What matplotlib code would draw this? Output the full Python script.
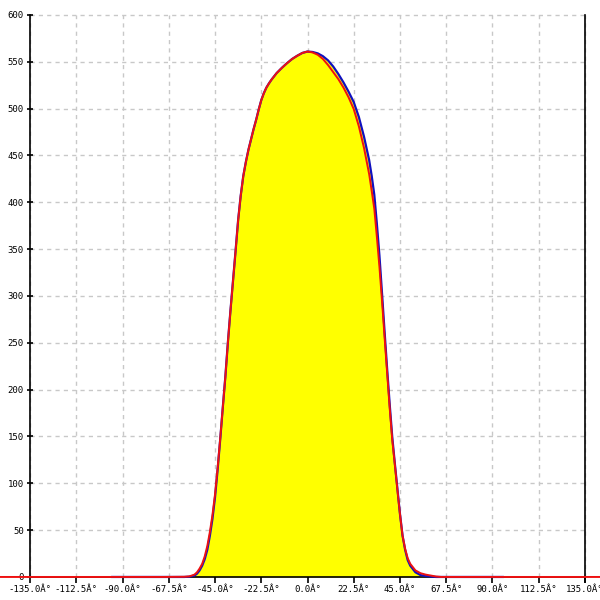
import matplotlib
matplotlib.use("Agg")
import matplotlib.pyplot as plt

# ---- data ----
angles_blue = [-95, -90, -80, -70, -60, -57.5, -55, -53.75, -52.5, -51.25, -50, -48.75, -47.5,
               -46.25, -45, -43.75, -42.5, -41.25, -40, -38.75, -37.5, -36.25, -35, -33.75,
               -32.5, -31.25, -30, -28.75, -27.5, -26.25, -25, -23.75, -22.5, -21.25, -20,
               -18.75, -17.5, -16.25, -15, -12.5, -10, -7.5, -5, -2.5, 0, 2.5, 5, 7.5, 10,
               12.5, 15, 17.5, 20, 22.5, 25, 27.5, 30, 31.25, 32.5, 33.75, 35, 36.25, 37.5,
               38.75, 40, 41.25, 42.5, 43.75, 45, 46.25, 47.5, 48.75, 50, 52.5, 55, 57.5, 60,
               62.5, 70, 80, 90, 95]
values_blue = [0, 0, 0, 0, 0, 0.3, 1.5, 3.5, 7, 12, 19, 29, 44,
               62, 85, 114, 146, 180, 213, 250, 284, 316, 348, 381,
               407, 428, 443, 456, 467, 478, 488, 499, 509, 516.5, 522.5,
               527, 531, 534.5, 538, 543.5, 548.5, 553, 556.5, 559.5, 561, 560.5, 559, 556, 551.5,
               545, 537, 528, 518, 507, 491, 470, 445, 428, 408, 377, 343, 303, 262,
               222, 184, 149, 121, 94, 67, 44, 29, 18, 12, 5, 2, 1, 0.5,
               0, 0, 0, 0, 0]

angles_red = [-180, -150, -95, -90, -80, -70, -60, -57.5, -55, -53.75, -52.5, -51.25, -50,
              -48.75, -47.5, -46.25, -45, -43.75, -42.5, -41.25, -40, -38.75, -37.5, -36.25,
              -35, -33.75, -32.5, -31.25, -30, -28.75, -27.5, -26.25, -25, -23.75, -22.5,
              -21.25, -20, -18.75, -17.5, -16.25, -15, -12.5, -10, -7.5, -5, -2.5, 0, 2.5, 5,
              7.5, 10, 12.5, 15, 17.5, 20, 22.5, 25, 27.5, 30, 31.25, 32.5, 33.75, 35, 36.25,
              37.5, 38.75, 40, 41.25, 42.5, 43.75, 45, 46.25, 47.5, 48.75, 50, 52.5, 55, 57.5,
              60, 62.5, 65, 70, 80, 90, 95, 150, 180]
values_red = [0, 0, 0, 0, 0, 0, 0.2, 0.6, 2.5, 5, 9, 14, 22,
              33, 48, 66, 88, 116, 147, 180, 213, 250, 284, 316,
              348, 381, 407, 428, 443, 456, 467, 478, 488, 499, 509,
              516.5, 522.5, 527, 531, 534.5, 538, 543.5, 548.5, 553, 556.5, 559.5, 561, 560, 557.5,
              553, 546.5, 539, 531.5, 522.5, 512, 499.5, 481, 458, 430, 412, 393, 363, 331, 295,
              256, 218, 180, 146, 120, 93, 67, 44, 30, 20, 14, 7, 4, 2.5,
              1.5, 0.5, 0, 0, 0, 0, 0, 0, 0]

x_ticks = [-135.0, -112.5, -90.0, -67.5, -45.0, -22.5, 0.0, 22.5, 45.0, 67.5, 90.0, 112.5, 135.0]
x_tick_labels = ["%.1f\u00c2\u00b0" % v for v in x_ticks]
y_ticks = [0, 50, 100, 150, 200, 250, 300, 350, 400, 450, 500, 550, 600]

# ---- figure ----
fig = plt.figure(figsize=(6, 6), dpi=100)
ax = fig.add_axes([0, 0, 1, 1])
ax.set_xlim(-149.6, 142.3)
ax.set_ylim(-24.6, 616)

# grid inside the box
ax.hlines(y_ticks[1:], x_ticks[0], x_ticks[-1], colors="#c8c8c8", linewidth=1,
          linestyles=(0, (3, 3)), zorder=0)
ax.vlines(x_ticks, 0, y_ticks[-1], colors="#c8c8c8", linewidth=1,
          linestyles=(0, (3, 3)), zorder=0)

# data
ax.fill_between(angles_blue, values_blue, 0, color="#ffff00", linewidth=0, zorder=1)
ax.plot(angles_blue, values_blue, color="#1010c0", linewidth=1.6, zorder=3,
        solid_joinstyle="round")
ax.plot(angles_red, values_red, color="#ee1111", linewidth=1.4, zorder=4,
        solid_joinstyle="round")

# spines
ax.spines["top"].set_visible(False)
ax.spines["left"].set_position(("data", -135))
ax.spines["left"].set_bounds(0, 600)
ax.spines["right"].set_position(("data", 135))
ax.spines["right"].set_bounds(-5, 600)
ax.spines["bottom"].set_position(("data", 0))
ax.spines["bottom"].set_bounds(-135, 135)
for s in ["left", "right", "bottom"]:
    ax.spines[s].set_linewidth(1.2)
    ax.spines[s].set_color("black")

mono = {"family": "DejaVu Sans Mono", "size": 6.5}
ax.set_xticks(x_ticks)
ax.set_xticklabels(x_tick_labels, fontdict=mono)
ax.set_yticks(y_ticks)
ax.set_yticklabels([str(v) for v in y_ticks], fontdict=mono)
ax.tick_params(axis="x", direction="out", length=4, width=1.2, pad=2)
ax.tick_params(axis="y", direction="inout", length=5, width=1.2, pad=2)
ax.tick_params(right=False, top=False)

fig.savefig("out.png", dpi=100, facecolor="white")
